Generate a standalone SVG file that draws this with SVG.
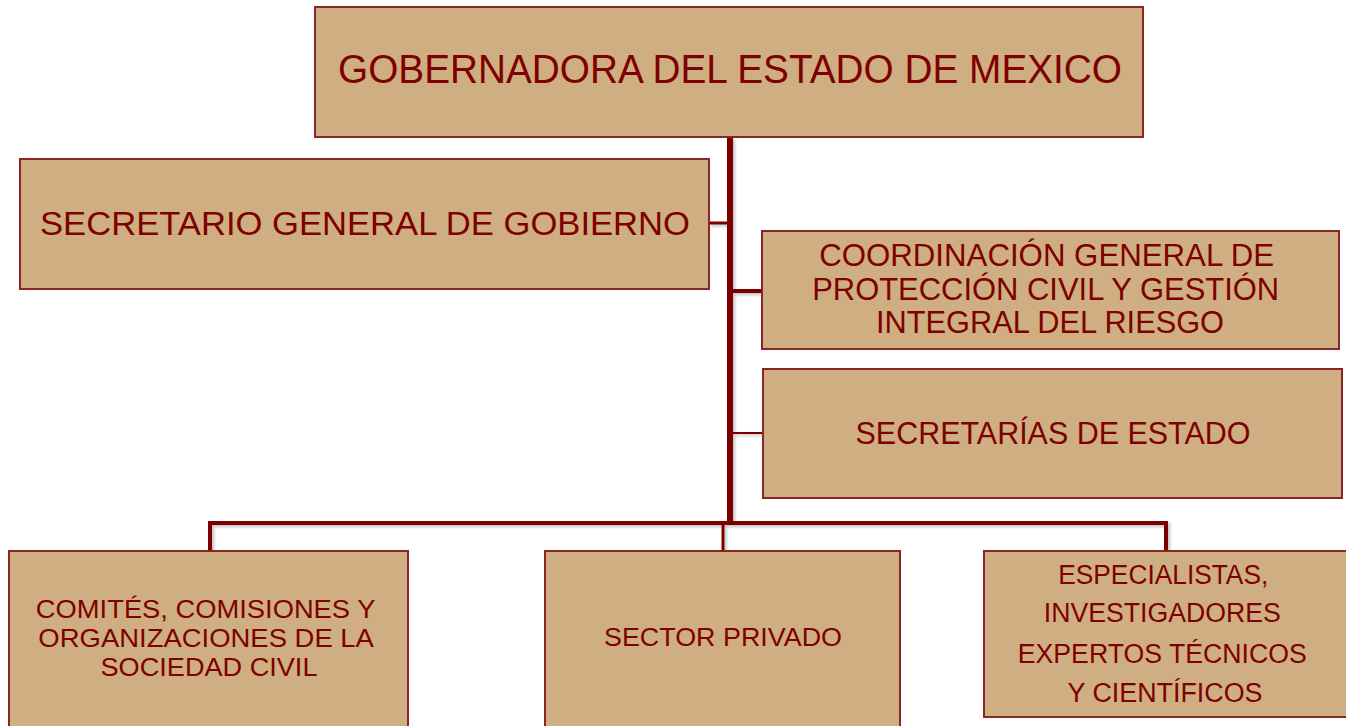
<svg xmlns="http://www.w3.org/2000/svg" width="1346" height="726" viewBox="0 0 1346 726">
<defs>
<filter id="sh" x="-20%" y="-20%" width="140%" height="140%">
<feDropShadow dx="2" dy="2" stdDeviation="1.5" flood-color="#000" flood-opacity="0.25"/>
</filter>
<style>
.box{fill:#CFAF81;stroke:#8A2525;stroke-width:2}
.t{font-family:"Liberation Sans",Arial,sans-serif;fill:#7E0000;text-anchor:middle}
.c{stroke:#7A0000;fill:none;stroke-linecap:butt}
</style>
</defs>
<rect width="1346" height="726" fill="#fff"/>
<g id="connectors" filter="url(#sh)">
<line class="c" x1="730" y1="137" x2="730" y2="525" stroke-width="6"/>
<line class="c" x1="709" y1="223" x2="730" y2="223" stroke-width="3"/>
<line class="c" x1="730" y1="291" x2="762" y2="291" stroke-width="4"/>
<line class="c" x1="730" y1="433" x2="763" y2="433" stroke-width="2"/>
<polyline class="c" points="210,551 210,523 1166,523 1166,551" stroke-width="4"/>
<line class="c" x1="723" y1="523" x2="723" y2="551" stroke-width="3"/>
</g>
<g id="gobernadora">
<rect class="box" x="315" y="7" width="828" height="130"/>
<text class="t" x="730" y="83" font-size="40" textLength="784" lengthAdjust="spacingAndGlyphs">GOBERNADORA DEL ESTADO DE MEXICO</text>
</g>
<g id="secretario">
<rect class="box" x="20" y="159" width="689" height="130"/>
<text class="t" x="365" y="235" font-size="34" textLength="650" lengthAdjust="spacingAndGlyphs">SECRETARIO GENERAL DE GOBIERNO</text>
</g>
<g id="coordinacion">
<rect class="box" x="762" y="231" width="577" height="118"/>
<text class="t" font-size="31">
<tspan x="1051" y="266" textLength="455" lengthAdjust="spacingAndGlyphs">COORDINACIÓN GENERAL DE</tspan>
<tspan x="1050" y="300" textLength="467" lengthAdjust="spacingAndGlyphs">PROTECCIÓN CIVIL Y GESTIÓN</tspan>
<tspan x="1050" y="333" textLength="348" lengthAdjust="spacingAndGlyphs">INTEGRAL DEL RIESGO</tspan>
</text>
</g>
<g id="secretarias">
<rect class="box" x="763" y="369" width="579" height="129"/>
<text class="t" x="1053" y="444" font-size="31" textLength="395" lengthAdjust="spacingAndGlyphs">SECRETARÍAS DE ESTADO</text>
</g>
<g id="comites">
<rect class="box" x="9" y="551" width="399" height="180"/>
<text class="t" font-size="26">
<tspan x="209" y="618" textLength="339" lengthAdjust="spacingAndGlyphs">COMITÉS, COMISIONES Y</tspan>
<tspan x="209" y="647" textLength="334" lengthAdjust="spacingAndGlyphs">ORGANIZACIONES DE LA</tspan>
<tspan x="209" y="676" textLength="217" lengthAdjust="spacingAndGlyphs">SOCIEDAD CIVIL</tspan>
</text>
</g>
<g id="sector">
<rect class="box" x="545" y="551" width="355" height="180"/>
<text class="t" x="723" y="646" font-size="26" textLength="238" lengthAdjust="spacingAndGlyphs">SECTOR PRIVADO</text>
</g>
<g id="especialistas">
<rect class="box" x="984" y="551" width="366" height="166"/>
<text class="t" font-size="27">
<tspan x="1167" y="584" textLength="210" lengthAdjust="spacingAndGlyphs">ESPECIALISTAS,</tspan>
<tspan x="1166" y="622" textLength="237" lengthAdjust="spacingAndGlyphs">INVESTIGADORES</tspan>
<tspan x="1166" y="663" textLength="289" lengthAdjust="spacingAndGlyphs">EXPERTOS TÉCNICOS</tspan>
<tspan x="1165" y="702" textLength="195" lengthAdjust="spacingAndGlyphs">Y CIENTÍFICOS</tspan>
</text>
</g>
</svg>
